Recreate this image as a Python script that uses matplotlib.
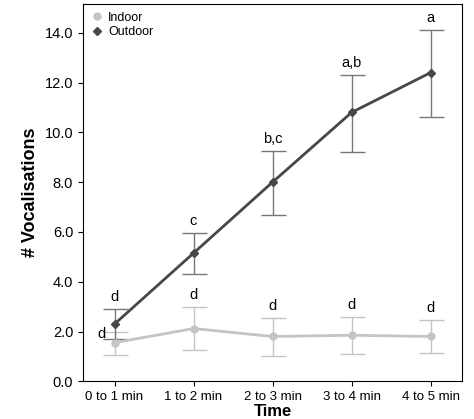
import matplotlib
matplotlib.use("Agg")
import matplotlib.pyplot as plt
from matplotlib.lines import Line2D

plt.rcParams['font.family'] = ['Liberation Sans', 'DejaVu Sans']

categories = ["0 to 1 min", "1 to 2 min", "2 to 3 min", "3 to 4 min", "4 to 5 min"]
indoor = [1.55, 2.12, 1.8, 1.85, 1.8]
indoor_hi = [2.0, 3.0, 2.55, 2.6, 2.45]
indoor_lo = [1.05, 1.25, 1.0, 1.1, 1.15]
outdoor = [2.3, 5.15, 8.0, 10.8, 12.4]
outdoor_hi = [2.9, 5.95, 9.25, 12.3, 14.1]
outdoor_lo = [1.7, 4.3, 6.7, 9.2, 10.6]
outdoor_letters = ["d", "c", "b,c", "a,b", "a"]
indoor_letters = ["d", "d", "d", "d", "d"]

fig = plt.figure(figsize=(4.74, 4.19), dpi=100)
ax = fig.add_axes([0.175, 0.09, 0.8, 0.9])
x = list(range(len(categories)))

def err(v, hi, lo):
    return [[a - b for a, b in zip(v, lo)], [b - a for a, b in zip(v, hi)]]

ci, co = "#c4c4c4", "#474747"
ax.errorbar(x, indoor, yerr=err(indoor, indoor_hi, indoor_lo), color=ci, marker="o", ms=5,
            lw=2, capsize=9, elinewidth=1)
ax.errorbar(x, outdoor, yerr=err(outdoor, outdoor_hi, outdoor_lo), color=co, marker="D", ms=4.5,
            lw=2, capsize=9, elinewidth=1, ecolor="#777777")
for i in x:
    ax.text(i, outdoor_hi[i] + 0.2, outdoor_letters[i], ha="center", va="bottom", fontsize=10.5)
    if i == 0:
        ax.text(i - 0.17, indoor[i] + 0.05, indoor_letters[i], ha="center", va="bottom", fontsize=10.5)
    else:
        ax.text(i, indoor_hi[i] + 0.2, indoor_letters[i], ha="center", va="bottom", fontsize=10.5)

ax.set_xlim(-0.4, 4.4)
ax.set_ylim(0, 15.15)
ax.set_yticks([0, 2, 4, 6, 8, 10, 12, 14])
ax.set_yticklabels([f"{v:.1f}" for v in [0, 2, 4, 6, 8, 10, 12, 14]], fontsize=10.5)
ax.set_xticks(x)
ax.set_xticklabels(categories, fontsize=9.5)
ax.set_xlabel("Time", fontsize=12, fontweight="bold", labelpad=1)
ax.set_ylabel("# Vocalisations", fontsize=13, fontweight="bold")
handles = [Line2D([], [], color=ci, marker="o", ls="none", ms=5),
           Line2D([], [], color=co, marker="D", ls="none", ms=4.5)]
ax.legend(handles, ["Indoor", "Outdoor"], loc="upper left", frameon=False, fontsize=9,
          handlelength=1, handletextpad=0.4, borderaxespad=0.2, labelspacing=0.2)
fig.savefig("out.png")
